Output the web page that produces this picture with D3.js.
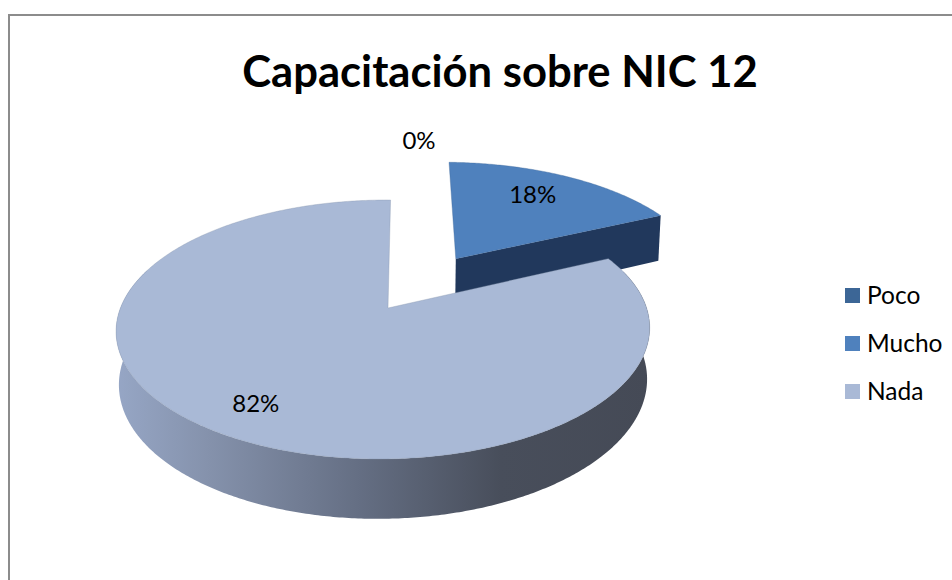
<!DOCTYPE html>
<html><head><meta charset="utf-8">
<script src="https://cdn.jsdelivr.net/npm/d3@7/dist/d3.min.js"></script>
<style>html,body{margin:0;background:#fff}svg{display:block}text{font-family:Lato,"Open Sans",sans-serif;fill:#000}</style>
</head><body><div id="c"></div>
<script>
const chartTitle = "Capacitación sobre NIC 12";
const categories = ["Poco", "Mucho", "Nada"];
const values = [0, 18, 82];
const palette = ["#3c6696", "#4f81bd", "#a9b9d6"];
const sideColors = ["#23395d", "#21385c", "#454a55"];

const W = 952, H = 580;
const svg = d3.select("#c").append("svg").attr("width", W).attr("height", H);

// layout of the perspective pie
const view = {x0: 388, y0: 308, rx: 263, ry: 125.9, skew: 3, px: 0.017, py: 0.166, depth: 52, recede: 0.01};
const explode = {Poco: 0, Mucho: 0.5, Nada: 0};
const explodeTurn = 0.01;
const rimR = {Poco: 1, Mucho: 1.02, Nada: 1};
const labelR = {Mucho: 0.75, Nada: 0.8};
const labelTurn = {Mucho: -0.05, Nada: 0.01};

function project(X, Y, Z) {
  const d = 1 + view.py * Y + view.px * X + view.recede * Z;
  return [view.x0 + (view.rx * X + view.skew * Y) / d, view.y0 + (-view.ry * Y + view.depth * Z) / d];
}
const pie = d3.pie().sort(null).startAngle(0).endAngle(2 * Math.PI).value(d => d.value);
const slices = pie(categories.map((name, i) => ({name, value: values[i], i})));
const line = d3.line();

function pt(s, a, r, Z) {
  const t = explode[s.data.name], m = (s.startAngle + s.endAngle) / 2 + explodeTurn;
  return project(t * Math.sin(m) + r * Math.sin(a), t * Math.cos(m) + r * Math.cos(a), Z);
}
function arcPts(s, a0, a1, Z) {
  const n = Math.max(2, Math.ceil(Math.abs(a1 - a0) / 0.01));
  return d3.range(n + 1).map(k => pt(s, a0 + (a1 - a0) * k / n, rimR[s.data.name], Z));
}

// wall shading
const defs = svg.append("defs");
const grad = defs.append("linearGradient").attr("id", "wall").attr("gradientUnits", "userSpaceOnUse")
  .attr("x1", 117).attr("x2", 650).attr("y1", 0).attr("y2", 0);
[[0, "#96a6c5"], [0.17, "#8592ac"], [0.45, "#656f84"], [0.72, "#484e5b"], [1, "#454a56"]]
  .forEach(([o, c]) => grad.append("stop").attr("offset", o).attr("stop-color", c));

// frame
svg.append("rect").attr("x", 9).attr("y", 15).attr("width", W + 20).attr("height", H + 20)
  .attr("fill", "#fff").attr("stroke", "#8c8c8c").attr("stroke-width", 2);

// title
svg.append("text").attr("x", 500).attr("y", 87).attr("text-anchor", "middle")
  .attr("font-size", 43.6).attr("font-weight", 700).text(chartTitle);

// exploded slice first, main pie over it
const drawn = slices.filter(s => s.value > 0).sort((a, b) => a.data.i - b.data.i);
const g = svg.append("g");
drawn.forEach(s => {
  const big = s.endAngle - s.startAngle > Math.PI;
  const R = rimR[s.data.name];
  if (big) {
    // wall runs past the silhouette tangents; the top face covers the back of it
    const a0 = Math.max(s.startAngle, Math.PI * 0.4), a1 = Math.min(s.endAngle, Math.PI * 1.6);
    const top = arcPts(s, a0, a1, 0), bot = arcPts(s, a1, a0, 1);
    g.append("path").attr("d", line(top.concat(bot)) + "Z").attr("fill", "url(#wall)");
  } else {
    const a = s.endAngle;
    const poly = [pt(s, a, 0, 0), pt(s, a, R, 0), pt(s, a, R, 1), pt(s, a, 0, 1)];
    g.append("path").attr("d", line(poly) + "Z").attr("fill", sideColors[s.data.i]);
  }
  const face = [pt(s, 0, 0, 0)].concat(arcPts(s, s.startAngle, s.endAngle, 0));
  g.append("path").attr("d", line(face) + "Z").attr("fill", palette[s.data.i])
    .attr("stroke", d3.color(palette[s.data.i]).darker(0.6)).attr("stroke-opacity", 0.35).attr("stroke-width", 1);
});

// data labels
const pct = d3.format(".0%");
const total = d3.sum(values);
const labelSize = 24;
slices.forEach(s => {
  const m = (s.startAngle + s.endAngle) / 2;
  const c = s.value > 0 ? pt(s, m + labelTurn[s.data.name], labelR[s.data.name], 0) : [view.x0 + 31, 141];
  svg.append("text").attr("x", c[0]).attr("y", c[1]).attr("dy", "0.35em").attr("text-anchor", "middle")
    .attr("font-size", labelSize).text(pct(s.value / total));
});

// legend
const ly = d3.scalePoint().domain(categories).range([295.5, 391.5]);
const leg = svg.append("g").selectAll("g").data(categories).join("g")
  .attr("transform", d => `translate(845,${ly(d)})`);
leg.append("rect").attr("x", 0).attr("y", -7.5).attr("width", 15).attr("height", 15)
  .attr("fill", (d, i) => palette[i]);
leg.append("text").attr("x", 22).attr("dy", "0.36em").attr("font-size", 24.5).text(d => d);
</script></body></html>
